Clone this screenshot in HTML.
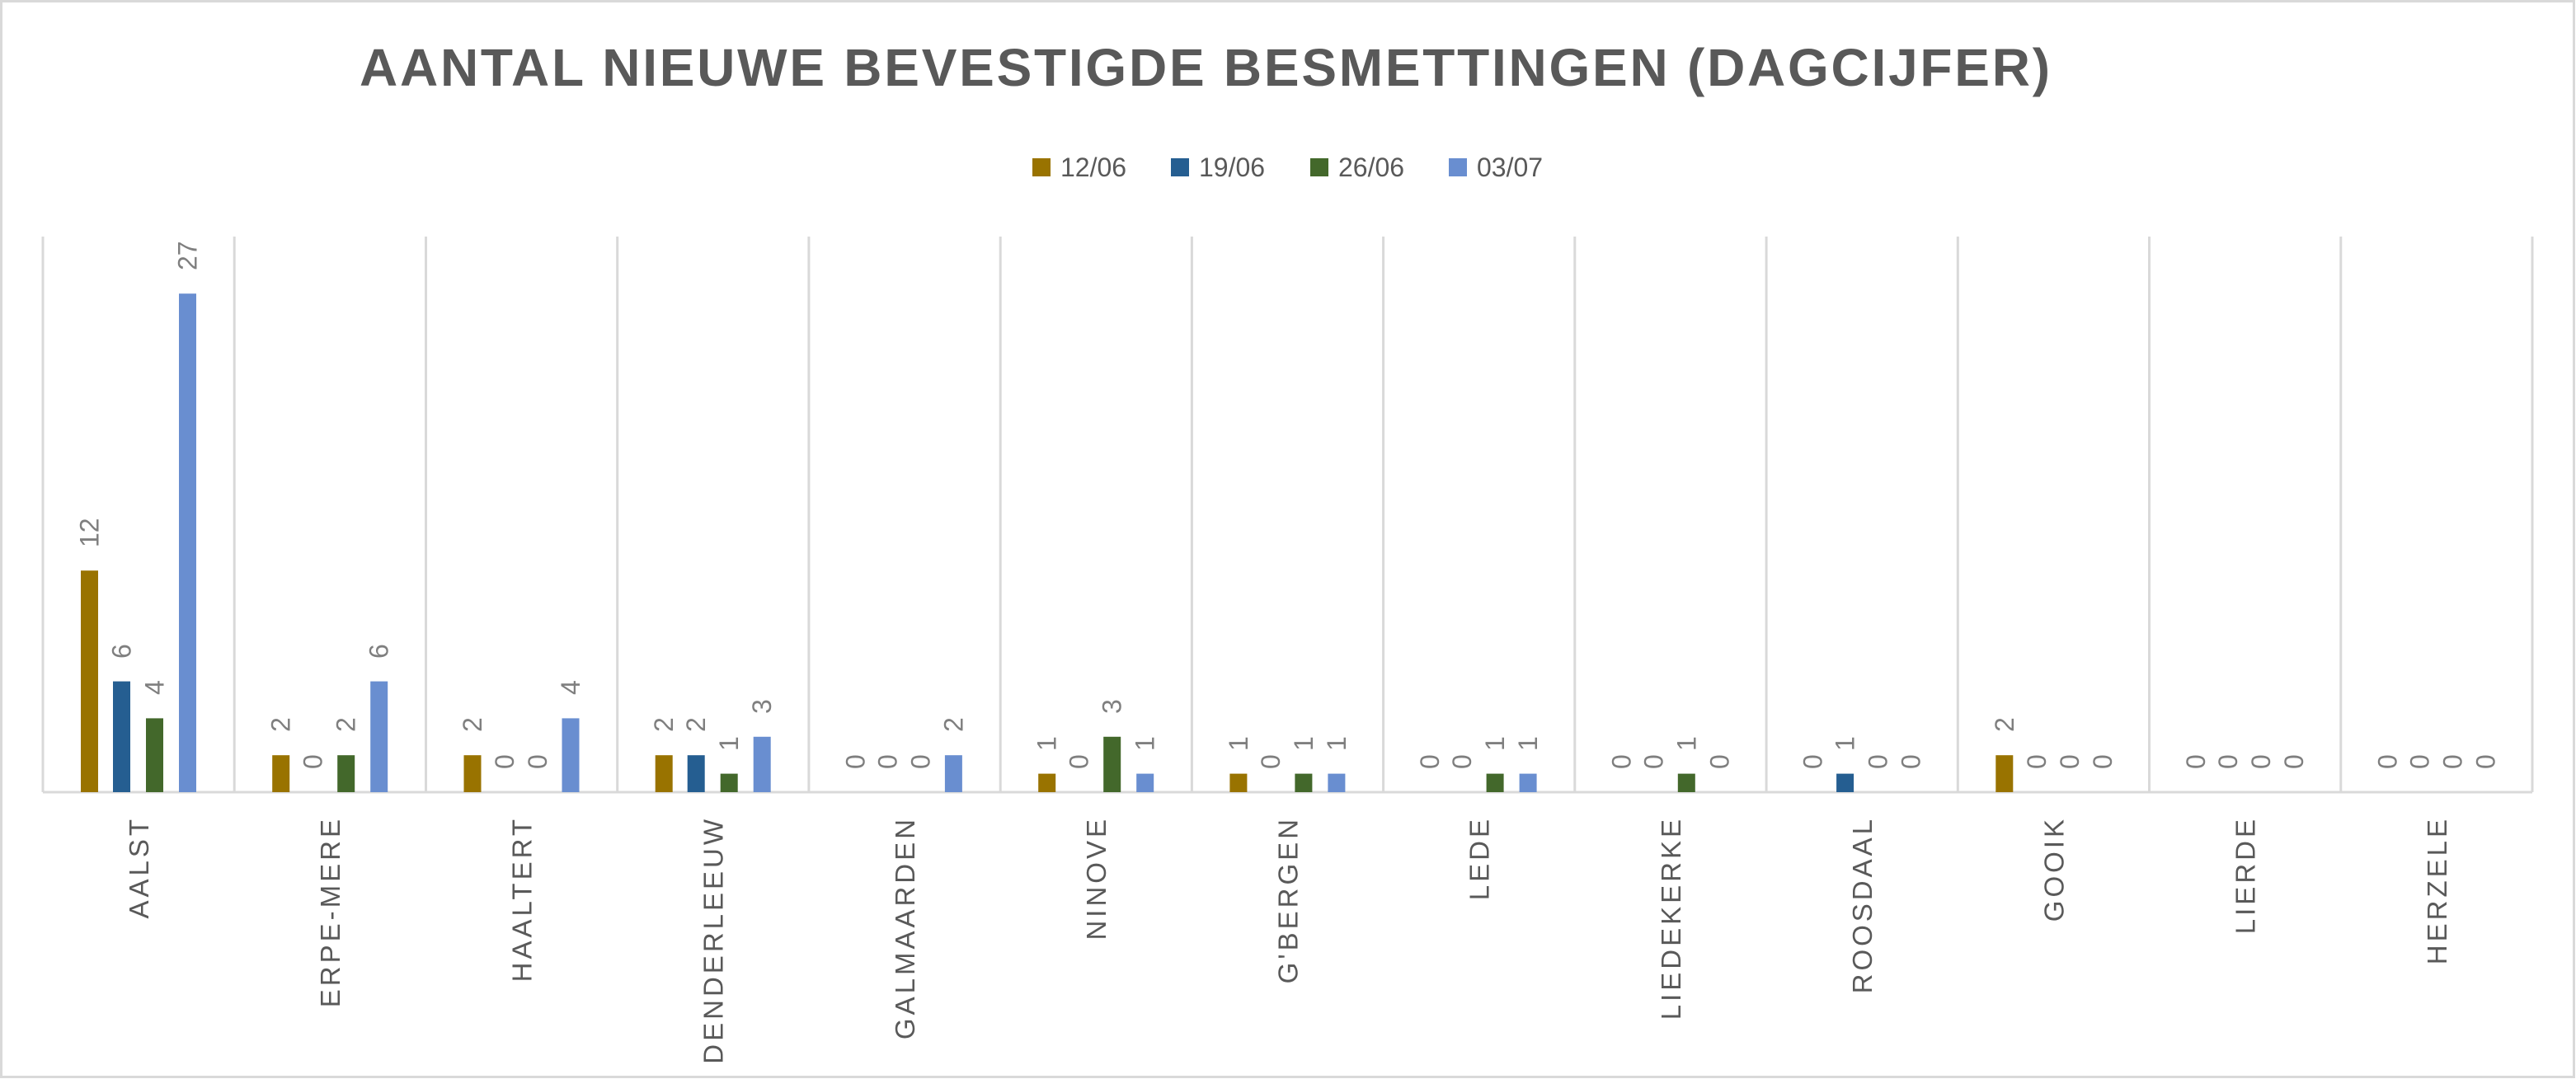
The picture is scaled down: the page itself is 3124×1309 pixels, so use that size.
<!DOCTYPE html>
<html><head><meta charset="utf-8"><style>html,body{margin:0;padding:0;background:#fff;overflow:hidden}svg{display:block}</style></head>
<body>
<svg width="3124" height="1309" viewBox="0 0 3124 1309" xmlns="http://www.w3.org/2000/svg" font-family="'Liberation Sans', sans-serif">
<rect x="1.5" y="1.5" width="3120" height="1305" fill="#fff" stroke="#d9d9d9" stroke-width="3"/>
<text x="436" y="104" font-size="64" font-weight="bold" fill="#595959" textLength="2050" lengthAdjust="spacing">AANTAL NIEUWE BEVESTIGDE BESMETTINGEN (DAGCIJFER)</text>
<g font-size="32" fill="#595959">
<rect x="1252" y="192" width="22" height="22" fill="#997300"/><text x="1286" y="214">12/06</text>
<rect x="1420" y="192" width="22" height="22" fill="#255E91"/><text x="1454" y="214">19/06</text>
<rect x="1589" y="192" width="22" height="22" fill="#43682B"/><text x="1623" y="214">26/06</text>
<rect x="1757" y="192" width="22" height="22" fill="#698ED0"/><text x="1791" y="214">03/07</text>
</g>
<g stroke="#d9d9d9" stroke-width="3">
<line x1="52" y1="287" x2="52" y2="961"/><line x1="284.2" y1="287" x2="284.2" y2="961"/><line x1="516.5" y1="287" x2="516.5" y2="961"/><line x1="748.7" y1="287" x2="748.7" y2="961"/><line x1="980.9" y1="287" x2="980.9" y2="961"/><line x1="1213.2" y1="287" x2="1213.2" y2="961"/><line x1="1445.4" y1="287" x2="1445.4" y2="961"/><line x1="1677.6" y1="287" x2="1677.6" y2="961"/><line x1="1909.8" y1="287" x2="1909.8" y2="961"/><line x1="2142.1" y1="287" x2="2142.1" y2="961"/><line x1="2374.3" y1="287" x2="2374.3" y2="961"/><line x1="2606.5" y1="287" x2="2606.5" y2="961"/><line x1="2838.8" y1="287" x2="2838.8" y2="961"/><line x1="3071" y1="287" x2="3071" y2="961"/>
<line x1="52" y1="961" x2="3071" y2="961"/>
</g>

<g transform="translate(52,0)">
<rect x="46" y="692.2" width="21" height="268.8" fill="#997300"/><rect x="85" y="826.6" width="21" height="134.4" fill="#255E91"/><rect x="125" y="871.4" width="21" height="89.6" fill="#43682B"/><rect x="165" y="356.2" width="21" height="604.8" fill="#698ED0"/>
<g font-size="32" fill="#7f7f7f"><text transform="translate(67.5,664) rotate(-90)">12</text><text transform="translate(106.5,799) rotate(-90)">6</text><text transform="translate(146.5,843) rotate(-90)">4</text><text transform="translate(186.5,328) rotate(-90)">27</text></g>
<text transform="translate(128,990) rotate(-90)" text-anchor="end" font-size="33" letter-spacing="4" fill="#595959">AALST</text>
</g>
<g transform="translate(284.2,0)">
<rect x="46" y="916.2" width="21" height="44.8" fill="#997300"/><rect x="125" y="916.2" width="21" height="44.8" fill="#43682B"/><rect x="165" y="826.6" width="21" height="134.4" fill="#698ED0"/>
<g font-size="32" fill="#7f7f7f"><text transform="translate(67.5,888) rotate(-90)">2</text><text transform="translate(106.5,933) rotate(-90)">0</text><text transform="translate(146.5,888) rotate(-90)">2</text><text transform="translate(186.5,799) rotate(-90)">6</text></g>
<text transform="translate(128,990) rotate(-90)" text-anchor="end" font-size="33" letter-spacing="4" fill="#595959">ERPE-MERE</text>
</g>
<g transform="translate(516.5,0)">
<rect x="46" y="916.2" width="21" height="44.8" fill="#997300"/><rect x="165" y="871.4" width="21" height="89.6" fill="#698ED0"/>
<g font-size="32" fill="#7f7f7f"><text transform="translate(67.5,888) rotate(-90)">2</text><text transform="translate(106.5,933) rotate(-90)">0</text><text transform="translate(146.5,933) rotate(-90)">0</text><text transform="translate(186.5,843) rotate(-90)">4</text></g>
<text transform="translate(128,990) rotate(-90)" text-anchor="end" font-size="33" letter-spacing="4" fill="#595959">HAALTERT</text>
</g>
<g transform="translate(748.7,0)">
<rect x="46" y="916.2" width="21" height="44.8" fill="#997300"/><rect x="85" y="916.2" width="21" height="44.8" fill="#255E91"/><rect x="125" y="938.6" width="21" height="22.4" fill="#43682B"/><rect x="165" y="893.8" width="21" height="67.2" fill="#698ED0"/>
<g font-size="32" fill="#7f7f7f"><text transform="translate(67.5,888) rotate(-90)">2</text><text transform="translate(106.5,888) rotate(-90)">2</text><text transform="translate(146.5,911) rotate(-90)">1</text><text transform="translate(186.5,866) rotate(-90)">3</text></g>
<text transform="translate(128,990) rotate(-90)" text-anchor="end" font-size="33" letter-spacing="4" fill="#595959">DENDERLEEUW</text>
</g>
<g transform="translate(980.9,0)">
<rect x="165" y="916.2" width="21" height="44.8" fill="#698ED0"/>
<g font-size="32" fill="#7f7f7f"><text transform="translate(67.5,933) rotate(-90)">0</text><text transform="translate(106.5,933) rotate(-90)">0</text><text transform="translate(146.5,933) rotate(-90)">0</text><text transform="translate(186.5,888) rotate(-90)">2</text></g>
<text transform="translate(128,990) rotate(-90)" text-anchor="end" font-size="33" letter-spacing="4" fill="#595959">GALMAARDEN</text>
</g>
<g transform="translate(1213.2,0)">
<rect x="46" y="938.6" width="21" height="22.4" fill="#997300"/><rect x="125" y="893.8" width="21" height="67.2" fill="#43682B"/><rect x="165" y="938.6" width="21" height="22.4" fill="#698ED0"/>
<g font-size="32" fill="#7f7f7f"><text transform="translate(67.5,911) rotate(-90)">1</text><text transform="translate(106.5,933) rotate(-90)">0</text><text transform="translate(146.5,866) rotate(-90)">3</text><text transform="translate(186.5,911) rotate(-90)">1</text></g>
<text transform="translate(128,990) rotate(-90)" text-anchor="end" font-size="33" letter-spacing="4" fill="#595959">NINOVE</text>
</g>
<g transform="translate(1445.4,0)">
<rect x="46" y="938.6" width="21" height="22.4" fill="#997300"/><rect x="125" y="938.6" width="21" height="22.4" fill="#43682B"/><rect x="165" y="938.6" width="21" height="22.4" fill="#698ED0"/>
<g font-size="32" fill="#7f7f7f"><text transform="translate(67.5,911) rotate(-90)">1</text><text transform="translate(106.5,933) rotate(-90)">0</text><text transform="translate(146.5,911) rotate(-90)">1</text><text transform="translate(186.5,911) rotate(-90)">1</text></g>
<text transform="translate(128,990) rotate(-90)" text-anchor="end" font-size="33" letter-spacing="4" fill="#595959">G'BERGEN</text>
</g>
<g transform="translate(1677.6,0)">
<rect x="125" y="938.6" width="21" height="22.4" fill="#43682B"/><rect x="165" y="938.6" width="21" height="22.4" fill="#698ED0"/>
<g font-size="32" fill="#7f7f7f"><text transform="translate(67.5,933) rotate(-90)">0</text><text transform="translate(106.5,933) rotate(-90)">0</text><text transform="translate(146.5,911) rotate(-90)">1</text><text transform="translate(186.5,911) rotate(-90)">1</text></g>
<text transform="translate(128,990) rotate(-90)" text-anchor="end" font-size="33" letter-spacing="4" fill="#595959">LEDE</text>
</g>
<g transform="translate(1909.8,0)">
<rect x="125" y="938.6" width="21" height="22.4" fill="#43682B"/>
<g font-size="32" fill="#7f7f7f"><text transform="translate(67.5,933) rotate(-90)">0</text><text transform="translate(106.5,933) rotate(-90)">0</text><text transform="translate(146.5,911) rotate(-90)">1</text><text transform="translate(186.5,933) rotate(-90)">0</text></g>
<text transform="translate(128,990) rotate(-90)" text-anchor="end" font-size="33" letter-spacing="4" fill="#595959">LIEDEKERKE</text>
</g>
<g transform="translate(2142.1,0)">
<rect x="85" y="938.6" width="21" height="22.4" fill="#255E91"/>
<g font-size="32" fill="#7f7f7f"><text transform="translate(67.5,933) rotate(-90)">0</text><text transform="translate(106.5,911) rotate(-90)">1</text><text transform="translate(146.5,933) rotate(-90)">0</text><text transform="translate(186.5,933) rotate(-90)">0</text></g>
<text transform="translate(128,990) rotate(-90)" text-anchor="end" font-size="33" letter-spacing="4" fill="#595959">ROOSDAAL</text>
</g>
<g transform="translate(2374.3,0)">
<rect x="46" y="916.2" width="21" height="44.8" fill="#997300"/>
<g font-size="32" fill="#7f7f7f"><text transform="translate(67.5,888) rotate(-90)">2</text><text transform="translate(106.5,933) rotate(-90)">0</text><text transform="translate(146.5,933) rotate(-90)">0</text><text transform="translate(186.5,933) rotate(-90)">0</text></g>
<text transform="translate(128,990) rotate(-90)" text-anchor="end" font-size="33" letter-spacing="4" fill="#595959">GOOIK</text>
</g>
<g transform="translate(2606.5,0)">
<g font-size="32" fill="#7f7f7f"><text transform="translate(67.5,933) rotate(-90)">0</text><text transform="translate(106.5,933) rotate(-90)">0</text><text transform="translate(146.5,933) rotate(-90)">0</text><text transform="translate(186.5,933) rotate(-90)">0</text></g>
<text transform="translate(128,990) rotate(-90)" text-anchor="end" font-size="33" letter-spacing="4" fill="#595959">LIERDE</text>
</g>
<g transform="translate(2838.8,0)">
<g font-size="32" fill="#7f7f7f"><text transform="translate(67.5,933) rotate(-90)">0</text><text transform="translate(106.5,933) rotate(-90)">0</text><text transform="translate(146.5,933) rotate(-90)">0</text><text transform="translate(186.5,933) rotate(-90)">0</text></g>
<text transform="translate(128,990) rotate(-90)" text-anchor="end" font-size="33" letter-spacing="4" fill="#595959">HERZELE</text>
</g>
</svg>
</body></html>
